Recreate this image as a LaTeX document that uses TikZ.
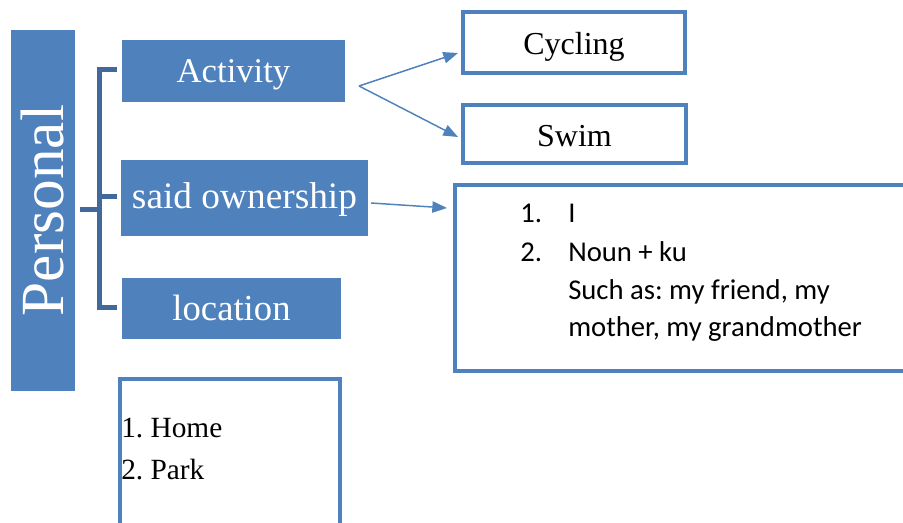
\documentclass[tikz,border=0pt]{standalone}
\usepackage{fontspec}
\setmainfont{Liberation Serif}
\newfontfamily\calibri{Carlito}
\usetikzlibrary{arrows.meta}
\definecolor{accent}{HTML}{4F81BD}
\definecolor{brk}{HTML}{41699B}
\begin{document}
\frenchspacing
\begin{tikzpicture}[x=0.75pt,y=-0.75pt,
  filled/.style={fill=accent, draw=none, text=white, inner sep=0pt, text depth=0pt},
  outlined/.style={draw=accent, line width=3.5pt, fill=white, inner sep=0pt, text depth=0pt, font=\fontsize{24}{28}\selectfont},
  brace/.style={draw=brk, line width=3.75pt},
  conn/.style={draw=accent, line width=1.1pt, -{Triangle[length=11pt,width=8.5pt]}},
  sanstxt/.style={anchor=base west, inner sep=0pt, font=\calibri\fontsize{21.5}{24}\selectfont},
  sertxt/.style={anchor=base west, inner sep=0pt, font=\fontsize{22}{26}\selectfont}]
\useasboundingbox (0,0) rectangle (903,523);

% Personal
\node[fill=accent, draw=none, minimum width=48pt, minimum height=270.75pt, inner sep=0pt] (pers) at (43,210.5) {};
\node[text=white, rotate=90, inner sep=0pt, font=\fontsize{46}{50}\selectfont] (perstxt) at (pers.center) {Personal};

% left column
\node[filled, minimum width=167.25pt, minimum height=46.5pt, text height=17.5pt, font=\fontsize{26}{30}\selectfont] (act) at (233.5,71) {Activity};
\node[filled, minimum width=185.25pt, minimum height=57pt, text height=15.5pt, font=\fontsize{28}{32}\selectfont] (own) at (244.5,198) {said ownership};
\node[filled, minimum width=164.25pt, minimum height=45.75pt, text height=17.75pt, font=\fontsize{27.5}{32}\selectfont] (loc) at (231.5,308.5) {location};

% bracket
\coordinate (b1) at (117,70);
\coordinate (b2) at (99,70);
\coordinate (b3) at (99,308);
\coordinate (b4) at (117,308);
\coordinate (bm1) at (99,197);
\coordinate (bm2) at (117,197);
\coordinate (bs1) at (80,210);
\coordinate (bs2) at (99,210);
\draw[brace] (b1) -- (b2) -- (b3) -- (b4);
\draw[brace] (bm1) -- (bm2);
\draw[brace] (bs1) -- (bs2);

% right boxes
\node[outlined, minimum width=166.5pt, minimum height=45.75pt, text height=18.75pt] (cyc) at (574,42.5) {Cycling};
\node[outlined, minimum width=167.25pt, minimum height=43.5pt, text height=19.5pt] (swim) at (574.5,134) {Swim};
\node[outlined, minimum width=341.25pt, minimum height=139.5pt] (big) at (682.5,278) {};
\node[outlined, minimum width=165pt, minimum height=113.25pt] (list) at (230,454.5) {};

% arrows
\coordinate (fork) at (359,86);
\coordinate (tcyc) at (458,53);
\coordinate (tswim) at (458,137);
\draw[conn] (fork) -- (tcyc);
\draw[conn] (fork) -- (tswim);
\coordinate (ownst) at (371,203);
\coordinate (ownend) at (447,208);
\draw[conn] (ownst) -- (ownend);

% big box text
\node[sanstxt] (n1) at (520,223) {1.};
\node[sanstxt] (t1) at (568,223) {I};
\node[sanstxt] (n2) at (520,262) {2.};
\node[sanstxt] (t2) at (568,262) {Noun + ku};
\node[sanstxt] (t3) at (568,300) {Such as: my friend, my};
\node[sanstxt] (t4) at (568,337) {mother, my grandmother};

% list text
\node[sertxt] (home) at (121,438) {1. Home};
\node[sertxt] (park) at (121,480) {2. Park};
\end{tikzpicture}
\end{document}
